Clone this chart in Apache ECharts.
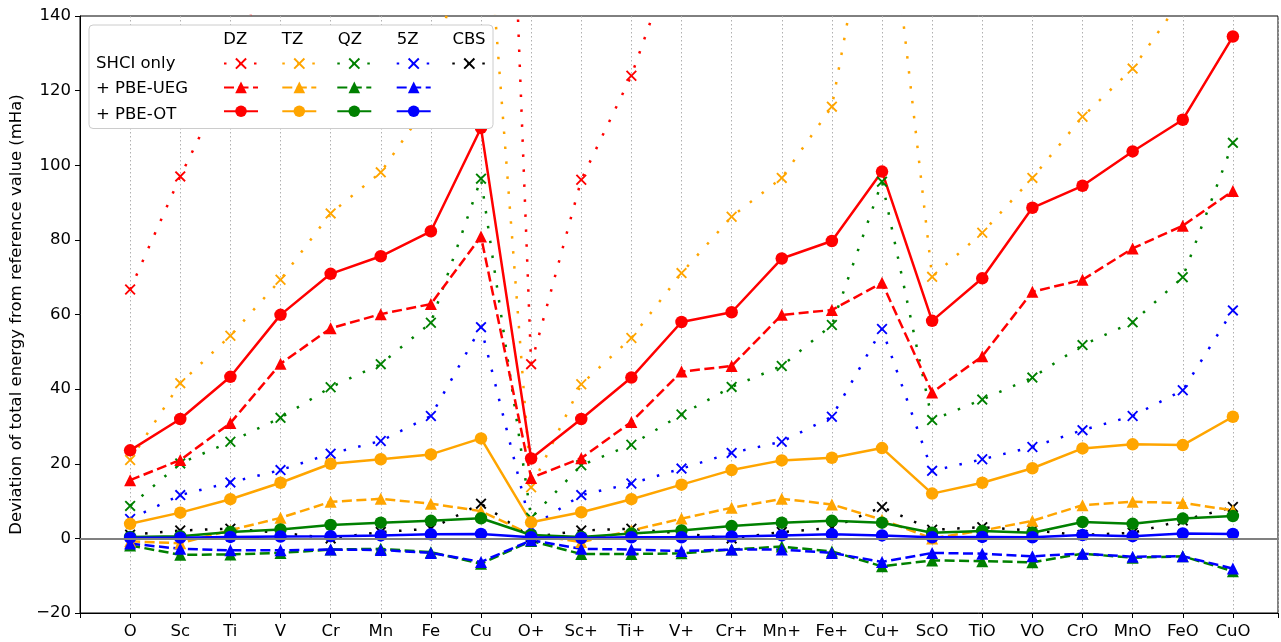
<!DOCTYPE html>
<html>
<head>
<meta charset="utf-8">
<script src="https://cdn.jsdelivr.net/npm/echarts@6.0.0/dist/echarts.min.js"></script>
<style>
html,body{margin:0;padding:0;background:#fff;}
#chart{width:1281px;height:642px;}
</style>
</head>
<body>
<div id="chart"></div>
<script>
// ---------- data ----------
const categories = ['O','Sc','Ti','V','Cr','Mn','Fe','Cu','O+','Sc+','Ti+','V+','Cr+','Mn+','Fe+','Cu+','ScO','TiO','VO','CrO','MnO','FeO','CuO'];
const bases = ['DZ','TZ','QZ','5Z','CBS'];
const methods = ['SHCI only','+ PBE-UEG','+ PBE-OT'];

// SHCI only
const shciDZ  = [66.7, 97.0, 124.5, 164, 200, 225, 270, 400, 46.7, 96.1, 124.0, 162, 198, 222, 266, 400, 162, 188, 220, 258, 290, 330, 400];
const shciTZ  = [21.0, 41.6, 54.3, 69.3, 87.1, 98.1, 117.5, 190, 13.7, 41.3, 53.7, 71.1, 86.2, 96.6, 115.7, 189, 70.1, 81.9, 96.6, 113.0, 125.9, 145, 195];
const shciQZ  = [8.7, 20.1, 25.9, 32.3, 40.5, 46.7, 57.8, 96.4, 5.5, 19.6, 25.1, 33.2, 40.6, 46.2, 57.2, 95.6, 31.7, 37.2, 43.1, 51.8, 57.9, 70.0, 106.0];
const shci5Z  = [5.2, 11.6, 15.0, 18.3, 22.7, 26.1, 32.8, 56.6, 3.0, 11.6, 14.7, 18.7, 22.9, 25.9, 32.6, 56.1, 18.1, 21.2, 24.5, 29.0, 32.8, 39.7, 61.1];
const shciCBS = [1.0, 2.1, 2.6, 1.5, 0.0, 1.7, 2.6, 9.3, 0.3, 2.1, 2.6, 1.3, 0.0, 1.7, 2.8, 8.4, 2.3, 3.0, 2.1, 0.9, 1.5, 4.8, 8.4];
// + PBE-UEG
const uegDZ = [15.6, 21.0, 30.9, 46.8, 56.3, 60.1, 62.8, 80.9, 16.2, 21.5, 31.2, 44.7, 46.2, 59.9, 61.2, 68.5, 39.1, 48.8, 66.1, 69.3, 77.7, 83.8, 93.1];
const uegTZ = [-0.8, -1.3, 2.2, 5.5, 9.8, 10.6, 9.3, 7.3, 1.0, -1.0, 2.1, 5.3, 8.2, 10.6, 9.1, 5.0, 0.0, 2.1, 4.7, 8.9, 9.8, 9.5, 7.5];
const uegQZ = [-1.9, -4.4, -4.3, -3.9, -3.0, -2.8, -3.7, -6.8, -0.7, -4.2, -4.2, -4.0, -3.0, -2.2, -3.5, -7.5, -5.9, -6.1, -6.4, -4.1, -5.2, -4.8, -8.8];
const ueg5Z = [-1.4, -2.8, -3.2, -3.2, -3.0, -3.1, -3.9, -6.3, -0.5, -2.8, -3.0, -3.4, -3.0, -3.0, -3.9, -6.3, -3.9, -4.1, -4.8, -4.1, -4.9, -4.8, -8.1];
// + PBE-OT
const otDZ = [23.6, 32.0, 43.3, 59.9, 70.9, 75.6, 82.3, 110.0, 21.4, 32.0, 43.1, 58.0, 60.6, 75.0, 79.7, 98.3, 58.3, 69.7, 88.6, 94.5, 103.7, 112.2, 134.5];
const otTZ = [3.9, 6.9, 10.5, 14.9, 20.0, 21.2, 22.5, 26.8, 4.3, 7.0, 10.5, 14.4, 18.3, 20.9, 21.6, 24.2, 12.0, 14.9, 18.8, 24.1, 25.2, 25.0, 32.6];
const otQZ = [0.4, 0.6, 1.7, 2.4, 3.6, 4.2, 4.7, 5.4, 0.9, 0.4, 1.3, 2.1, 3.3, 4.2, 4.7, 4.2, 1.5, 2.0, 1.5, 4.4, 3.9, 5.3, 6.0];
const ot5Z = [0.2, 0.2, 0.4, 0.5, 0.6, 0.8, 1.1, 1.2, 0.3, 0.1, 0.3, 0.3, 0.5, 0.8, 1.1, 0.8, 0.3, 0.4, 0.3, 0.9, 0.6, 1.3, 1.2];

// ---------- styling ----------
const colors = {DZ:'#ff0000', TZ:'#ffa500', QZ:'#008000', '5Z':'#0000ff', CBS:'#000000'};
const xSym = 'path://M0,1.2 L1.2,0 L5,3.8 L8.8,0 L10,1.2 L6.2,5 L10,8.8 L8.8,10 L5,6.2 L1.2,10 L0,8.8 L3.8,5 Z';
const FONT = 'DejaVu Sans';
const FS = 16.5;

const table = [
  ['SHCI only', {DZ: shciDZ, TZ: shciTZ, QZ: shciQZ, '5Z': shci5Z, CBS: shciCBS}],
  ['+ PBE-UEG', {DZ: uegDZ, TZ: uegTZ, QZ: uegQZ, '5Z': ueg5Z}],
  ['+ PBE-OT',  {DZ: otDZ, TZ: otTZ, QZ: otQZ, '5Z': ot5Z}]
];
const methodStyle = {
  'SHCI only': {symbol: xSym, size: 11, line: [2.5, 12.5]},
  '+ PBE-UEG': {symbol: 'triangle', size: 12, line: [10, 4.5]},
  '+ PBE-OT':  {symbol: 'circle', size: 12.5, line: 'solid'}
};

const series = [];
// zero reference line
series.push({
  type: 'line', name: 'zero', data: [], silent: true, z: 1,
  markLine: {silent: true, symbol: 'none', label: {show: false}, animation: false,
    lineStyle: {color: '#808080', width: 2, type: 'solid'}, emphasis: {disabled: true},
    data: [{yAxis: 0}]}
});
table.forEach(([m, vals]) => {
  bases.forEach(b => {
    if (!vals[b]) return;
    const st = methodStyle[m];
    series.push({
      type: 'line',
      name: b + ' ' + m,
      data: vals[b].map((v, i) => [i, v]),
      symbol: st.symbol,
      symbolSize: st.size,
      symbolKeepAspect: true,
      showSymbol: true,
      color: colors[b],
      itemStyle: {color: colors[b], borderWidth: 0, opacity: 1},
      lineStyle: {color: colors[b], width: 2.5, type: st.line},
      emphasis: {disabled: true},
      clip: true,
      z: 2
    });
  });
});

// legend: one vertical legend per basis column
const colCenter = {DZ: 240, TZ: 298.3, QZ: 353.3, '5Z': 412.7, CBS: 468.3};
const legends = bases.map(b => ({
  show: true,
  orient: 'vertical',
  left: colCenter[b] - 17,
  top: 56.3,
  padding: 0,
  itemWidth: 34,
  itemHeight: 14.5,
  itemGap: 10.8,
  selectedMode: false,
  formatter: () => '',
  z: 6,
  data: methods.filter(m => table.find(t => t[0] === m)[1][b]).map(m => b + ' ' + m)
}));

const headerText = [
  {t: 'DZ', x: 235.3}, {t: 'TZ', x: 292.5}, {t: 'QZ', x: 350}, {t: '5Z', x: 407.7}, {t: 'CBS', x: 469}
];
const rowY = [63.3, 89, 114.3];
const graphic = [
  {type: 'rect', z: 5, shape: {x: 89, y: 25, width: 404, height: 103.5, r: 4},
   style: {fill: '#ffffff', stroke: '#cccccc', lineWidth: 1}}
];
headerText.forEach(h => graphic.push({type: 'text', z: 7, x: h.x, y: 39.5,
  style: {text: h.t, align: 'center', verticalAlign: 'middle', fontSize: FS, fontFamily: FONT, fill: '#000'}}));
methods.forEach((m, i) => graphic.push({type: 'text', z: 7, x: 96, y: rowY[i],
  style: {text: m, align: 'left', verticalAlign: 'middle', fontSize: FS, fontFamily: FONT, fill: '#000'}}));

const chart = echarts.init(document.getElementById('chart'), null, {renderer: 'canvas'});
chart.setOption({
  animation: false,
  backgroundColor: '#ffffff',
  textStyle: {fontFamily: FONT},
  grid: {left: 80, right: -2, top: 16, bottom: 29, show: true, borderColor: '#000', borderWidth: 1, backgroundColor: 'transparent'},
  xAxis: {
    type: 'value', min: -1, max: 22.9, interval: 1,
    axisLine: {show: true, onZero: false, lineStyle: {color: '#000', width: 1}},
    axisTick: {show: true, length: 5, lineStyle: {color: '#000', width: 1}},
    axisLabel: {show: true, margin: 10, color: '#000', fontSize: FS, fontFamily: FONT,
      formatter: v => (Number.isInteger(v) && v >= 0 && v < categories.length) ? categories[v] : ''},
    splitLine: {show: true, lineStyle: {color: '#b0b0b0', width: 1, type: [1.5, 2.5]}}
  },
  yAxis: {
    type: 'value', min: -20, max: 140, interval: 20,
    name: 'Deviation of total energy from reference value (mHa)',
    nameLocation: 'middle', nameRotate: 90, nameGap: 52,
    nameTextStyle: {fontSize: FS, fontFamily: FONT, color: '#000'},
    axisLine: {show: true, onZero: false, lineStyle: {color: '#000', width: 1}},
    axisTick: {show: true, length: 5, lineStyle: {color: '#000', width: 1}},
    axisLabel: {show: true, margin: 9, color: '#000', fontSize: FS, fontFamily: FONT,
      formatter: v => String(v).replace('-', '\u2212')},
    splitLine: {show: false}
  },
  legend: legends,
  graphic: graphic,
  series: series
});
</script>
</body>
</html>
